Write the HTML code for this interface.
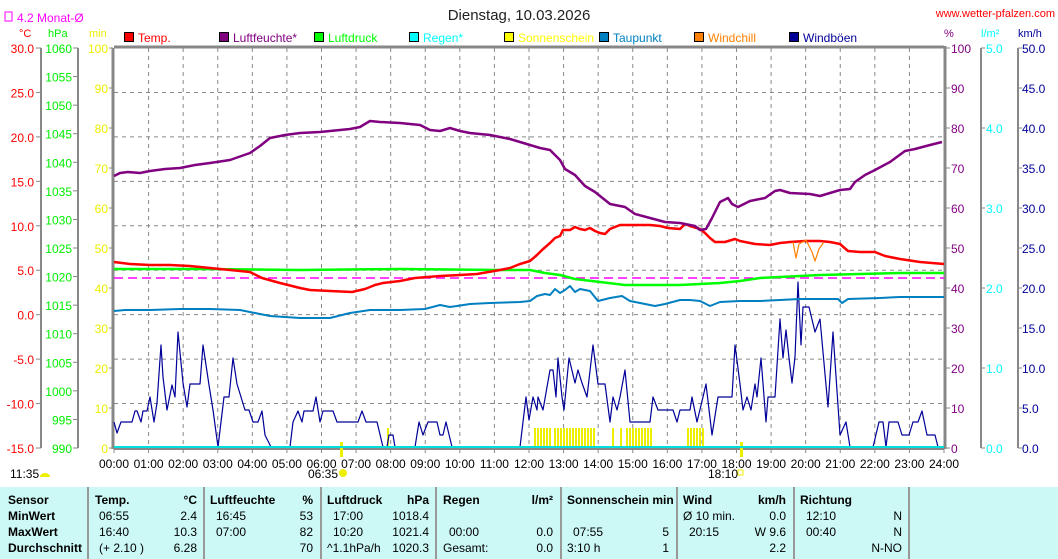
<!DOCTYPE html>
<html><head><meta charset="utf-8"><style>
body{margin:0;width:1058px;height:559px;background:#fff;overflow:hidden;font-family:"Liberation Sans",sans-serif;}
svg{position:absolute;left:0;top:0}
svg text{font-family:"Liberation Sans",sans-serif;font-size:12px}
#tbl{position:absolute;left:0;top:487px;width:1058px;height:72px;background:#ccf8f6;font-size:12px;}
#tbl div{position:absolute;white-space:nowrap}
.b{font-weight:bold}
.sep{position:absolute;top:0;width:2px;height:72px;background:#999}
</style></head><body>
<svg id="s" width="1058" height="559" xmlns="http://www.w3.org/2000/svg"></svg>
<div id="tbl"></div>
<script>
const S=document.getElementById('s');let h='';
const X0=114,X1=944,Y0=48,Y1=448,HW=(X1-X0)/24;
function L(x1,y1,x2,y2,c,w,d){h+=`<line x1="${x1}" y1="${y1}" x2="${x2}" y2="${y2}" stroke="${c}" stroke-width="${w||1}"${d?` stroke-dasharray="${d}"`:''}/>`;}
function T(x,y,t,c,a,sz){h+=`<text x="${x}" y="${y}" fill="${c}" text-anchor="${a||'start'}"${sz?` style="font-size:${sz}px"`:''}>${t}</text>`;}
function P(p,c,w){h+=`<polyline points="${p}" fill="none" stroke="${c}" stroke-width="${w}" stroke-linejoin="round"/>`;}
// grid
for(let i=1;i<24;i++){let x=X0+HW*i;L(x,Y0,x,Y1,'#888',1,'4,4');}
for(let i=1;i<9;i++){let y=Y0+i*400/9;L(X0,y,X1,y,'#888',1,'4,4');}
// frame
L(X0,Y0-1,X1,Y0-1,'#888',3);L(X0-1,Y0,X0-1,Y1+1,'#888',3);L(X1+1,Y0-2,X1+1,Y1+1,'#888',3);L(X0,Y1+1,X1,Y1+1,'#888',2);
// left axes
L(41,48,41,448,'#888',2);L(78,48,78,448,'#888',2);
for(let i=0;i<=9;i++){let y=Y0+i*400/9;L(36,y,41,y,'#888');T(34,y+5,(30-5*i).toFixed(1),'#ff0000','end');}
for(let i=0;i<=14;i++){let y=Y0+i*400/14;L(73,y,78,y,'#888');T(72,y+5,1060-5*i,'#00ee00','end');}
for(let i=0;i<=10;i++){let y=Y0+i*40;L(109,y,113,y,'#888');T(108,y+5,100-10*i,'#eeee00','end');}
// right axes
L(981,48,981,448,'#888',2);L(1018,48,1018,448,'#888',2);
for(let i=0;i<=10;i++){let y=Y0+i*40;L(946,y,950,y,'#888');T(951,y+5,100-10*i,'#800080');L(1018,y,1022,y,'#888');T(1022,y+5,(50-5*i).toFixed(1),'#000099');}
for(let i=0;i<=5;i++){let y=Y0+i*80;L(981,y,985,y,'#888');T(986,y+5,(5-i).toFixed(1),'#00ffff');}
// hour labels
for(let i=0;i<=24;i++){let x=X0+HW*i;L(x,449,x,453,'#888');T(x,468,(i<10?'0':'')+i+':00','#000','middle');}
// titles
T(519,20,'Dienstag, 10.03.2026','#222','middle',15);
T(1055,17,'www.wetter-pfalzen.com','#ff0000','end',11);
h+='<rect x="5" y="12" width="7" height="9" fill="none" stroke="#ff00ff"/>';T(17,22,'4.2 Monat-Ø','#ff00ff');
T(19,37,'°C','#ff0000','start',11);T(48,37,'hPa','#00ee00','start',11);T(89,37,'min','#eeee00','start',11);
T(944,37,'%','#800080','start',11);T(981,37,'l/m²','#00ffff','start',11);T(1018,37,'km/h','#000099','start',11);
const leg=[['Temp.','#ff0000'],['Luftfeuchte*','#800080'],['Luftdruck','#00ff00'],['Regen*','#00ffff'],['Sonnenschein','#ffff00'],['Taupunkt','#0080c0'],['Windchill','#ff8000'],['Windböen','#000099']];
leg.forEach((l,i)=>{let x=124+95*i;h+=`<rect x="${x+0.5}" y="32.5" width="9" height="9" fill="${l[1]}" stroke="#000"/>`;T(x+14,42,l[0],l[1]);});
// sunshine bars
function bars(a,b){for(let x=a;x<b;x+=3)h+=`<rect x="${x}" y="428" width="2" height="20" fill="#eeee00"/>`;}
bars(534,550);bars(554,594);bars(612,615);bars(620,623);bars(626,652);bars(687,704);
h+='<rect x="387" y="428" width="2" height="20" fill="#eeee00"/>';
h+='<rect x="340" y="442" width="3" height="15" fill="#eeee00"/><rect x="740" y="442" width="3" height="15" fill="#eeee00"/>';
// monthly dashed
L(X0,278,X1,278,'#ff00ff',1.5,'9,5');
// wind
P('114,422 117,433 121,422 132,422 135,411 137,411 141,422 143,411 147,411 150,397 154,422 157,403 161,345 163,377 167,410 172,385 175,397 178,332 183,383 187,407 190,384 200,384 203,345 209,385 213,410 218,447 224,397 229,397 233,358 237,384 245,410 249,410 253,422 258,422 262,411 265,435 271,447 290,447 293,422 298,411 302,422 304,411 313,411 316,397 320,422 323,411 333,411 337,422 358,422 362,411 366,422 377,422 383,447 387,447 389,435 393,435 395,447 415,447 419,422 423,435 428,422 437,422 440,435 443,435 446,422 452,447 520,447 526,397 529,420 533,397 537,410 538,397 543,410 550,370 553,370 556,397 558,358 562,397 564,410 569,358 575,383 578,370 582,383 587,397 593,345 598,384 605,384 610,422 613,397 617,410 620,397 625,370 630,422 650,422 653,397 658,410 673,410 677,422 680,410 690,410 692,397 697,422 703,397 706,384 712,435 718,397 732,397 735,345 740,384 743,410 747,397 751,410 755,384 757,397 761,358 766,422 768,397 775,397 780,319 783,358 786,330 789,358 792,383 795,357 798,282 801,345 803,307 809,307 815,332 820,319 828,407 833,332 840,435 846,422 850,447 873,447 879,422 883,422 886,447 889,422 898,422 902,435 909,435 913,422 918,422 922,411 927,435 935,435 938,447','#000099',1.2);
// rain
L(X0,447,X1,447,'#00dddd',2);
// dewpoint
P('114,311 125,310 150,310 180,309 210,309 240,310 255,313 270,316 300,318 330,318 350,313 370,310 400,310 425,309 440,305 450,307 470,304 490,303 520,302 530,301 537,296 545,294 550,295 555,289 560,293 565,290 570,286 575,292 580,289 590,291 598,301 610,298 622,296 630,301 640,303 655,306 665,304 680,300 690,300 700,301 710,306 720,302 740,301 760,301 780,300 800,299 838,299 842,303 848,299 880,298 900,297 925,297 944,297','#0080c0',2);
// pressure
P('114,269 200,269 300,270 400,269 500,270 530,270 545,273 560,275 575,279 600,282 625,285 650,285 680,285 700,284 720,283 740,281 760,278 780,277 800,276 820,275 860,274 900,273 944,273','#00ff00',2.5);
// temp
P('114,262 130,264 150,265 170,265 190,266 210,268 230,270 250,272 262,278 280,283 300,288 310,290 330,291 352,292 365,289 375,285 383,283 400,281 415,278 440,276 460,275 477,274 500,270 510,268 520,264 530,261 537,255 542,250 550,243 555,238 560,236 563,230 570,230 575,227 580,229 585,230 590,228 595,231 600,233 605,234 610,229 615,227 620,225 640,225 650,225 660,226 668,228 680,229 685,224 690,226 700,229 705,233 710,238 715,242 725,242 735,239 740,241 750,243 755,244 770,245 780,243 790,242 805,241 820,241 830,242 840,244 848,251 860,252 875,252 885,256 900,259 920,262 944,264','#ff0000',2.5);
// windchill
P('793,242 796,258 799,244 806,240 812,252 815,261 819,249 824,242','#ff8000',1.2);
// humidity
P('114,176 120,173 128,172 140,173 150,171 165,169 180,168 195,165 210,163 230,160 250,153 260,146 270,138 285,135 300,133 320,132 340,130 350,129 360,127 370,121 380,122 400,123 410,124 420,125 430,130 440,131 450,128 460,131 470,133 490,135 510,139 520,142 530,145 540,148 550,150 560,160 565,169 575,175 585,186 595,192 610,204 625,207 635,214 650,218 665,222 680,223 695,226 700,230 706,229 712,218 720,202 728,198 732,204 738,207 750,201 765,198 775,191 780,190 790,193 810,194 820,196 840,190 850,189 855,182 865,175 875,170 890,162 905,151 915,149 930,145 942,142','#800080',2.5);
// small labels under axis
T(10,478,'11:35','#000');h+='<path d="M40,477 a5,4 0 0 1 10,0 z" fill="#eeee00"/>';
T(308,478,'06:35','#000');h+='<circle cx="343" cy="473" r="4" fill="#eeee00"/>';
T(708,478,'18:10','#000');h+='<rect x="738" y="470" width="5" height="5" fill="none" stroke="#eeee00"/>';
S.innerHTML=h;
// table
const tb=document.getElementById('tbl');let t='';
[87,203,320,435,560,676,793,908].forEach(x=>t+=`<div class="sep" style="left:${x}px"></div>`);
function C(x,y,s,b,r){t+=`<div class="${b?'b':''}" style="${r?'right:'+(1058-x)+'px':'left:'+x+'px'};top:${y}px">${s}</div>`;}
const ys=[6,22,38,54];
['Sensor','MinWert','MaxWert','Durchschnitt'].forEach((s,i)=>C(8,ys[i],s,1));
C(95,6,'Temp.',1);C(197,6,'°C',1,1);C(99,22,'06:55');C(197,22,'2.4',0,1);C(99,38,'16:40');C(197,38,'10.3',0,1);C(99,54,'(+ 2.10 )');C(197,54,'6.28',0,1);
C(210,6,'Luftfeuchte',1);C(313,6,'%',1,1);C(216,22,'16:45');C(313,22,'53',0,1);C(216,38,'07:00');C(313,38,'82',0,1);C(313,54,'70',0,1);
C(327,6,'Luftdruck',1);C(429,6,'hPa',1,1);C(333,22,'17:00');C(429,22,'1018.4',0,1);C(333,38,'10:20');C(429,38,'1021.4',0,1);C(327,54,'^1.1hPa/h');C(429,54,'1020.3',0,1);
C(443,6,'Regen',1);C(553,6,'l/m²',1,1);C(449,38,'00:00');C(553,38,'0.0',0,1);C(443,54,'Gesamt:');C(553,54,'0.0',0,1);
C(567,6,'Sonnenschein min',1);C(573,38,'07:55');C(669,38,'5',0,1);C(567,54,'3:10 h');C(669,54,'1',0,1);
C(683,6,'Wind',1);C(786,6,'km/h',1,1);C(683,22,'Ø 10 min.');C(786,22,'0.0',0,1);C(689,38,'20:15');C(786,38,'W 9.6',0,1);C(786,54,'2.2',0,1);
C(800,6,'Richtung',1);C(806,22,'12:10');C(902,22,'N',0,1);C(806,38,'00:40');C(902,38,'N',0,1);C(902,54,'N-NO',0,1);
tb.innerHTML=t;
</script>
</body></html>
